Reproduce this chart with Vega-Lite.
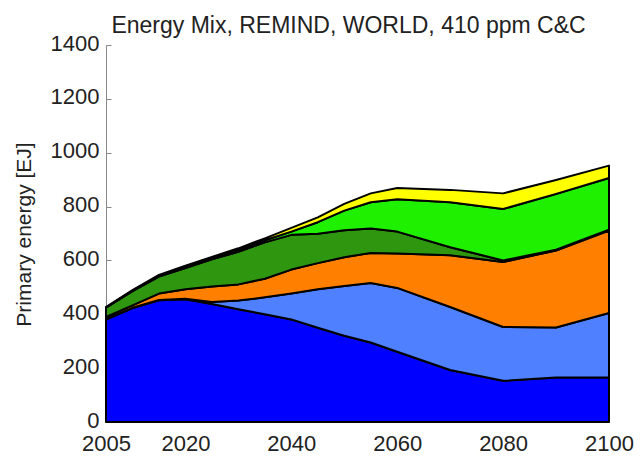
{
  "$schema": "https://vega.github.io/schema/vega-lite/v6.json",
  "width": 503,
  "height": 377,
  "autosize": "none",
  "padding": {"left": 106, "top": 45, "right": 31, "bottom": 40},
  "background": "white",
  "config": {"view": {"stroke": null}, "font": "Liberation Sans"},
  "title": {"text": "Energy Mix, REMIND, WORLD, 410 ppm C&C", "fontSize": 23, "fontWeight": "normal", "color": "#222", "font": "Liberation Sans", "offset": -6, "dx": -9},
  "datasets": {
    "mix": [
      {"year": 2005, "s": "A", "o": 1, "v": 380}, {"year": 2005, "s": "B", "o": 2, "v": 2}, {"year": 2005, "s": "C", "o": 3, "v": 8}, {"year": 2005, "s": "D", "o": 4, "v": 35}, {"year": 2005, "s": "E", "o": 5, "v": 1}, {"year": 2005, "s": "F", "o": 6, "v": 1},
      {"year": 2010, "s": "A", "o": 1, "v": 423}, {"year": 2010, "s": "B", "o": 2, "v": 1}, {"year": 2010, "s": "C", "o": 3, "v": 9}, {"year": 2010, "s": "D", "o": 4, "v": 53}, {"year": 2010, "s": "E", "o": 5, "v": 2}, {"year": 2010, "s": "F", "o": 6, "v": 2},
      {"year": 2015, "s": "A", "o": 1, "v": 452}, {"year": 2015, "s": "B", "o": 2, "v": 1}, {"year": 2015, "s": "C", "o": 3, "v": 24}, {"year": 2015, "s": "D", "o": 4, "v": 63}, {"year": 2015, "s": "E", "o": 5, "v": 3}, {"year": 2015, "s": "F", "o": 6, "v": 3},
      {"year": 2020, "s": "A", "o": 1, "v": 456}, {"year": 2020, "s": "B", "o": 2, "v": 2}, {"year": 2020, "s": "C", "o": 3, "v": 35}, {"year": 2020, "s": "D", "o": 4, "v": 79}, {"year": 2020, "s": "E", "o": 5, "v": 4}, {"year": 2020, "s": "F", "o": 6, "v": 4},
      {"year": 2025, "s": "A", "o": 1, "v": 438}, {"year": 2025, "s": "B", "o": 2, "v": 8}, {"year": 2025, "s": "C", "o": 3, "v": 57}, {"year": 2025, "s": "D", "o": 4, "v": 101}, {"year": 2025, "s": "E", "o": 5, "v": 4}, {"year": 2025, "s": "F", "o": 6, "v": 5},
      {"year": 2030, "s": "A", "o": 1, "v": 419}, {"year": 2030, "s": "B", "o": 2, "v": 32}, {"year": 2030, "s": "C", "o": 3, "v": 60}, {"year": 2030, "s": "D", "o": 4, "v": 121}, {"year": 2030, "s": "E", "o": 5, "v": 6}, {"year": 2030, "s": "F", "o": 6, "v": 7},
      {"year": 2035, "s": "A", "o": 1, "v": 400}, {"year": 2035, "s": "B", "o": 2, "v": 63}, {"year": 2035, "s": "C", "o": 3, "v": 69}, {"year": 2035, "s": "D", "o": 4, "v": 135}, {"year": 2035, "s": "E", "o": 5, "v": 8}, {"year": 2035, "s": "F", "o": 6, "v": 7},
      {"year": 2040, "s": "A", "o": 1, "v": 381}, {"year": 2040, "s": "B", "o": 2, "v": 96}, {"year": 2040, "s": "C", "o": 3, "v": 89}, {"year": 2040, "s": "D", "o": 4, "v": 129}, {"year": 2040, "s": "E", "o": 5, "v": 12}, {"year": 2040, "s": "F", "o": 6, "v": 14},
      {"year": 2045, "s": "A", "o": 1, "v": 350}, {"year": 2045, "s": "B", "o": 2, "v": 143}, {"year": 2045, "s": "C", "o": 3, "v": 97}, {"year": 2045, "s": "D", "o": 4, "v": 109}, {"year": 2045, "s": "E", "o": 5, "v": 43}, {"year": 2045, "s": "F", "o": 6, "v": 18},
      {"year": 2050, "s": "A", "o": 1, "v": 320}, {"year": 2050, "s": "B", "o": 2, "v": 185}, {"year": 2050, "s": "C", "o": 3, "v": 107}, {"year": 2050, "s": "D", "o": 4, "v": 100}, {"year": 2050, "s": "E", "o": 5, "v": 73}, {"year": 2050, "s": "F", "o": 6, "v": 25},
      {"year": 2055, "s": "A", "o": 1, "v": 295}, {"year": 2055, "s": "B", "o": 2, "v": 221}, {"year": 2055, "s": "C", "o": 3, "v": 112}, {"year": 2055, "s": "D", "o": 4, "v": 91}, {"year": 2055, "s": "E", "o": 5, "v": 97}, {"year": 2055, "s": "F", "o": 6, "v": 33},
      {"year": 2060, "s": "A", "o": 1, "v": 261}, {"year": 2060, "s": "B", "o": 2, "v": 237}, {"year": 2060, "s": "C", "o": 3, "v": 128}, {"year": 2060, "s": "D", "o": 4, "v": 81}, {"year": 2060, "s": "E", "o": 5, "v": 120}, {"year": 2060, "s": "F", "o": 6, "v": 42},
      {"year": 2070, "s": "A", "o": 1, "v": 193}, {"year": 2070, "s": "B", "o": 2, "v": 234}, {"year": 2070, "s": "C", "o": 3, "v": 192}, {"year": 2070, "s": "D", "o": 4, "v": 30}, {"year": 2070, "s": "E", "o": 5, "v": 167}, {"year": 2070, "s": "F", "o": 6, "v": 46},
      {"year": 2080, "s": "A", "o": 1, "v": 153}, {"year": 2080, "s": "B", "o": 2, "v": 200}, {"year": 2080, "s": "C", "o": 3, "v": 241}, {"year": 2080, "s": "D", "o": 4, "v": 6}, {"year": 2080, "s": "E", "o": 5, "v": 191}, {"year": 2080, "s": "F", "o": 6, "v": 58},
      {"year": 2090, "s": "A", "o": 1, "v": 165}, {"year": 2090, "s": "B", "o": 2, "v": 186}, {"year": 2090, "s": "C", "o": 3, "v": 286}, {"year": 2090, "s": "D", "o": 4, "v": 3}, {"year": 2090, "s": "E", "o": 5, "v": 207}, {"year": 2090, "s": "F", "o": 6, "v": 52},
      {"year": 2100, "s": "A", "o": 1, "v": 165}, {"year": 2100, "s": "B", "o": 2, "v": 240}, {"year": 2100, "s": "C", "o": 3, "v": 306}, {"year": 2100, "s": "D", "o": 4, "v": 3}, {"year": 2100, "s": "E", "o": 5, "v": 192}, {"year": 2100, "s": "F", "o": 6, "v": 46}
    ]
  },
  "data": {"name": "mix"},
  "mark": {"type": "area", "stroke": "black", "strokeWidth": 2, "strokeJoin": "round", "fillOpacity": 1},
  "encoding": {
    "x": {"field": "year", "type": "quantitative", "scale": {"domain": [2005, 2100], "nice": false, "zero": false},
      "axis": {"values": [2005, 2020, 2040, 2060, 2080, 2100], "format": "d", "title": null, "grid": false, "labelFontSize": 22, "labelColor": "#222", "labelFont": "Liberation Sans", "domainColor": "#888", "tickColor": "#888", "tickSize": -5, "labelPadding": 16, "labelFlush": false}},
    "y": {"field": "v", "type": "quantitative", "stack": "zero", "scale": {"domain": [0, 1400], "nice": false},
      "axis": {"values": [0, 200, 400, 600, 800, 1000, 1200, 1400], "format": "d", "title": "Primary energy [EJ]", "titleFontSize": 21, "titleFontWeight": "normal", "titleColor": "#222", "titleFont": "Liberation Sans", "titlePadding": 16, "titleY": 189, "grid": false, "labelFontSize": 22, "labelColor": "#222", "labelFont": "Liberation Sans", "domainColor": "#888", "tickColor": "#888", "tickSize": -5, "labelPadding": 12, "labelOffset": -2}},
    "color": {"field": "s", "type": "nominal", "legend": null, "scale": {"domain": ["A", "B", "C", "D", "E", "F"], "range": ["#0000FF", "#4F80FF", "#FF8000", "#2F9610", "#1EF000", "#FFFF00"]}},
    "order": {"field": "o", "type": "quantitative"}
  }
}
